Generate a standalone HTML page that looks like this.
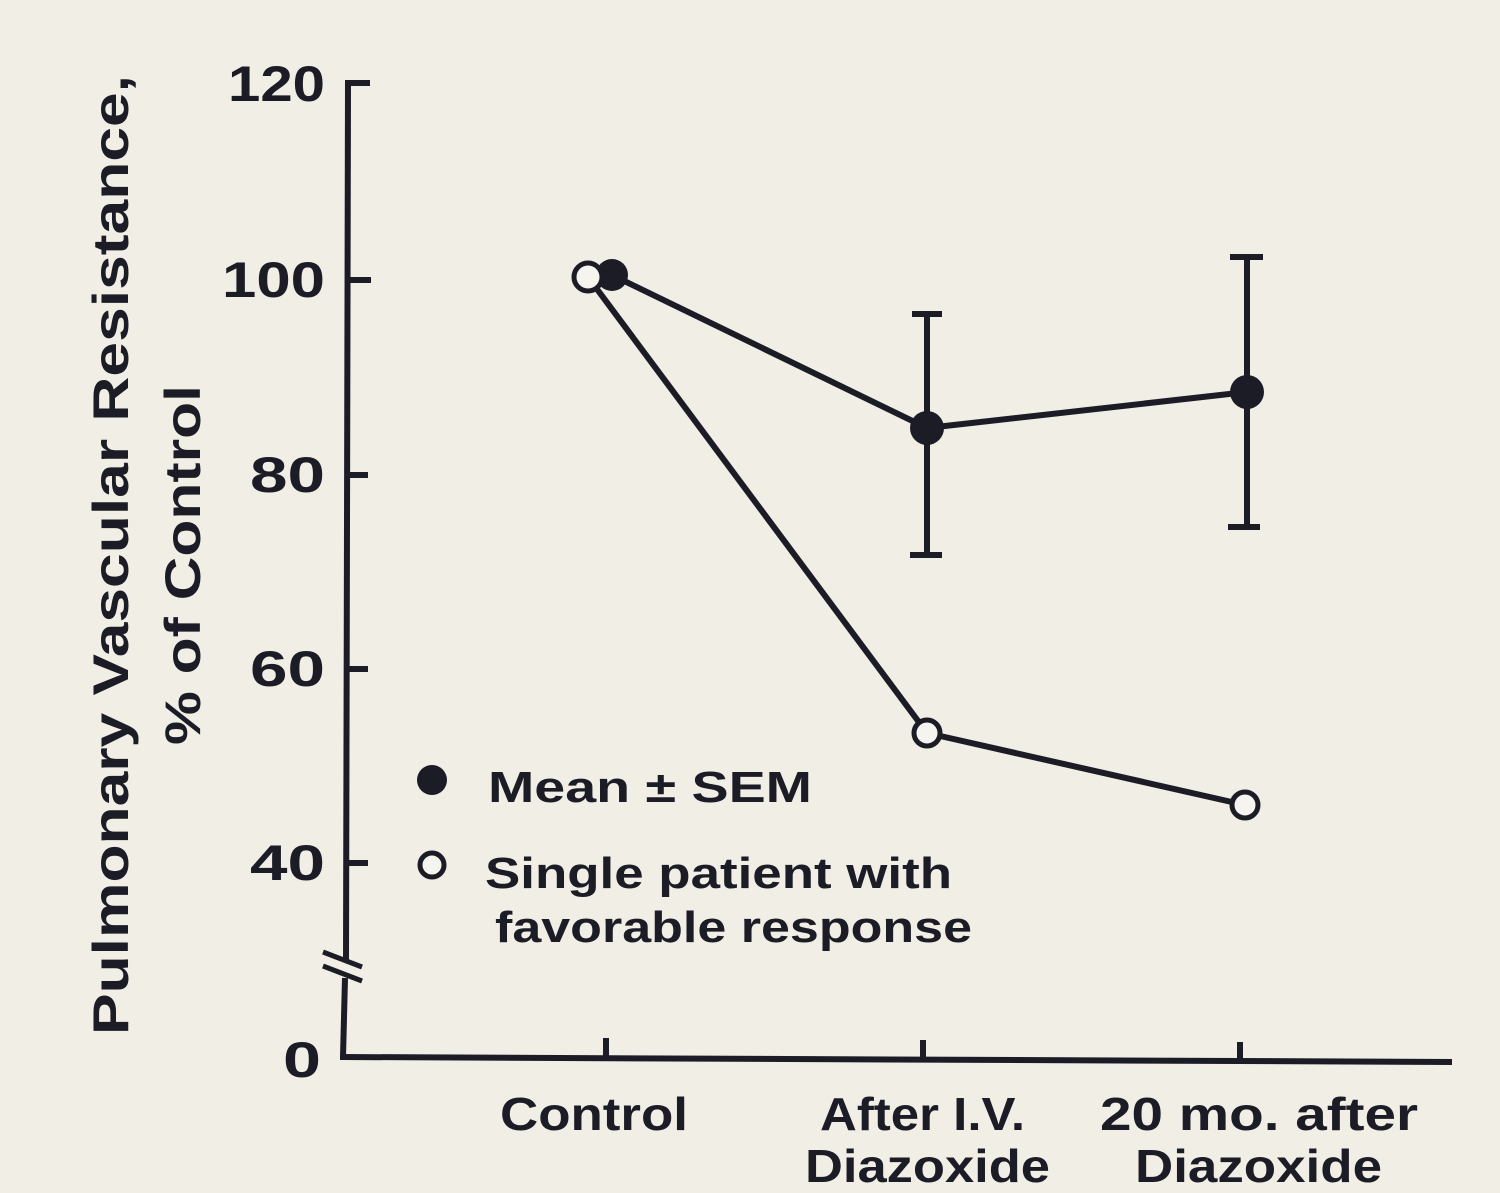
<!DOCTYPE html>
<html><head><meta charset="utf-8"><style>
html,body{margin:0;padding:0;background:#f1eee5;}
svg{display:block;}
text{font-family:"Liberation Sans",sans-serif;font-weight:bold;fill:#1c1c26;}
</style></head><body>
<svg width="1500" height="1193" viewBox="0 0 1500 1193" xmlns="http://www.w3.org/2000/svg">
<rect width="1500" height="1193" fill="#f1eee5"/>
<g stroke="#1c1c26" stroke-width="6" fill="none" stroke-linecap="butt">
  <polyline points="370,83 348,83 346,962"/>
  <line x1="345" y1="978" x2="343" y2="1057"/>
  <line x1="340" y1="1057" x2="1452" y2="1062"/>
  <line x1="347" y1="280" x2="371" y2="280"/>
  <line x1="347" y1="475" x2="368" y2="475"/>
  <line x1="347" y1="669" x2="368" y2="669"/>
  <line x1="346" y1="863" x2="368" y2="863"/>
  <line x1="323" y1="952" x2="362" y2="967" stroke-width="5"/>
  <line x1="323" y1="966" x2="362" y2="981" stroke-width="5"/>
  <line x1="606" y1="1038" x2="606" y2="1058"/>
  <line x1="923" y1="1040" x2="923" y2="1060"/>
  <line x1="1240" y1="1042" x2="1240" y2="1061"/>
  <line x1="927" y1="314" x2="927" y2="555"/>
  <line x1="912" y1="314" x2="942" y2="314"/>
  <line x1="910" y1="555" x2="942" y2="555"/>
  <line x1="1247" y1="257" x2="1247" y2="527"/>
  <line x1="1230" y1="257" x2="1263" y2="257"/>
  <line x1="1228" y1="527" x2="1260" y2="527"/>
  <polyline points="612,275 927,428 1247,392"/>
  <polyline points="588,277 927,733 1245,805"/>
</g>
<g fill="#1c1c26">
  <circle cx="612" cy="275" r="16"/>
  <circle cx="927" cy="428" r="17"/>
  <circle cx="1247" cy="392" r="17"/>
  <circle cx="432" cy="780" r="15"/>
</g>
<g fill="#f6f4ee" stroke="#1c1c26" stroke-width="5">
  <circle cx="588" cy="277" r="14"/>
  <circle cx="927" cy="733" r="13"/>
  <circle cx="1245" cy="805" r="13"/>
  <circle cx="432" cy="865" r="12"/>
</g>
<g font-size="50" lengthAdjust="spacingAndGlyphs">
  <text x="228" y="101" textLength="97" lengthAdjust="spacingAndGlyphs">120</text>
  <text x="222" y="297" textLength="103" lengthAdjust="spacingAndGlyphs">100</text>
  <text x="250" y="492" textLength="75" lengthAdjust="spacingAndGlyphs">80</text>
  <text x="250" y="686" textLength="75" lengthAdjust="spacingAndGlyphs">60</text>
  <text x="250" y="880" textLength="75" lengthAdjust="spacingAndGlyphs">40</text>
  <text x="283" y="1077" textLength="38" lengthAdjust="spacingAndGlyphs">0</text>
</g>
<g font-size="46">
  <text x="500" y="1130" textLength="188" lengthAdjust="spacingAndGlyphs">Control</text>
  <text x="820" y="1130" textLength="205" lengthAdjust="spacingAndGlyphs">After I.V.</text>
  <text x="805" y="1182" textLength="245" lengthAdjust="spacingAndGlyphs">Diazoxide</text>
  <text x="1100" y="1130" textLength="318" lengthAdjust="spacingAndGlyphs">20 mo. after</text>
  <text x="1135" y="1182" textLength="247" lengthAdjust="spacingAndGlyphs">Diazoxide</text>
</g>
<g font-size="44">
  <text x="488" y="802" textLength="324" lengthAdjust="spacingAndGlyphs">Mean ± SEM</text>
  <text x="485" y="888" textLength="467" lengthAdjust="spacingAndGlyphs">Single patient with</text>
  <text x="495" y="942" textLength="477" lengthAdjust="spacingAndGlyphs">favorable response</text>
</g>
<g font-size="50">
  <text transform="translate(128,1035) rotate(-90)" textLength="960" lengthAdjust="spacingAndGlyphs">Pulmonary Vascular Resistance,</text>
  <text transform="translate(200,745) rotate(-90)" textLength="360" lengthAdjust="spacingAndGlyphs">% of Control</text>
</g>
</svg>
</body></html>
